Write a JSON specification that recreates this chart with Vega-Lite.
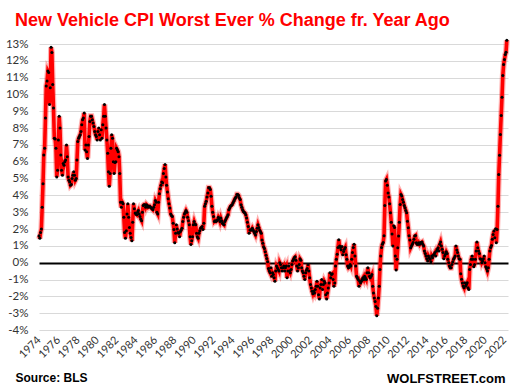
{
"$schema":"https://vega.github.io/schema/vega-lite/v6.json",
"width":469,"height":286,
"autosize":{"type":"none"},
"padding":{"left":39,"top":44,"right":4,"bottom":60},
"background":"white",
"config":{"view":{"stroke":null}},
"title":{"text":"New Vehicle CPI Worst Ever % Change fr. Year Ago","anchor":"start","frame":"group","dx":-24,"offset":-2,"color":"#ff0000","font":"Liberation Sans","fontSize":18,"fontWeight":"bold"},
"data":{"format":{"parse":{"d":"utc:'%Y-%m'"}},"values":[
{"d":"1974-01","v":1.6},{"d":"1974-02","v":1.45},{"d":"1974-03","v":1.8},{"d":"1974-04","v":2.0},{"d":"1974-05","v":3.3},{"d":"1974-06","v":4.7},{"d":"1974-07","v":6.4},{"d":"1974-08","v":6.8},{"d":"1974-09","v":8.6},{"d":"1974-10","v":10.5},{"d":"1974-11","v":10.8},{"d":"1974-12","v":11.4},
{"d":"1975-01","v":11.3},{"d":"1975-02","v":9.4},{"d":"1975-03","v":10.4},{"d":"1975-04","v":12.8},{"d":"1975-05","v":12.5},{"d":"1975-06","v":10.6},{"d":"1975-07","v":9.2},{"d":"1975-08","v":7.4},{"d":"1975-09","v":7.35},{"d":"1975-10","v":6.8},{"d":"1975-11","v":5.1},{"d":"1975-12","v":5.5},
{"d":"1976-01","v":7.3},{"d":"1976-02","v":8.7},{"d":"1976-03","v":8.0},{"d":"1976-04","v":6.4},{"d":"1976-05","v":5.5},{"d":"1976-06","v":5.2},{"d":"1976-07","v":5.9},{"d":"1976-08","v":5.8},{"d":"1976-09","v":6.0},{"d":"1976-10","v":6.1},{"d":"1976-11","v":7.0},{"d":"1976-12","v":6.3},
{"d":"1977-01","v":5.1},{"d":"1977-02","v":4.9},{"d":"1977-03","v":4.8},{"d":"1977-04","v":4.6},{"d":"1977-05","v":4.65},{"d":"1977-06","v":5.0},{"d":"1977-07","v":5.2},{"d":"1977-08","v":5.4},{"d":"1977-09","v":5.2},{"d":"1977-10","v":4.9},{"d":"1977-11","v":5.0},{"d":"1977-12","v":6.1},
{"d":"1978-01","v":7.2},{"d":"1978-02","v":7.4},{"d":"1978-03","v":7.5},{"d":"1978-04","v":7.6},{"d":"1978-05","v":7.8},{"d":"1978-06","v":8.2},{"d":"1978-07","v":8.5},{"d":"1978-08","v":8.6},{"d":"1978-09","v":8.9},{"d":"1978-10","v":6.7},{"d":"1978-11","v":7.0},{"d":"1978-12","v":6.6},
{"d":"1979-01","v":6.2},{"d":"1979-02","v":7.0},{"d":"1979-03","v":7.5},{"d":"1979-04","v":8.4},{"d":"1979-05","v":8.7},{"d":"1979-06","v":8.7},{"d":"1979-07","v":8.5},{"d":"1979-08","v":8.3},{"d":"1979-09","v":8.1},{"d":"1979-10","v":7.8},{"d":"1979-11","v":7.6},{"d":"1979-12","v":7.5},
{"d":"1980-01","v":7.3},{"d":"1980-02","v":7.8},{"d":"1980-03","v":8.0},{"d":"1980-04","v":7.6},{"d":"1980-05","v":7.3},{"d":"1980-06","v":7.9},{"d":"1980-07","v":7.4},{"d":"1980-08","v":8.2},{"d":"1980-09","v":8.7},{"d":"1980-10","v":9.4},{"d":"1980-11","v":8.7},{"d":"1980-12","v":8.0},
{"d":"1981-01","v":7.3},{"d":"1981-02","v":6.5},{"d":"1981-03","v":5.4},{"d":"1981-04","v":4.55},{"d":"1981-05","v":5.3},{"d":"1981-06","v":6.8},{"d":"1981-07","v":7.6},{"d":"1981-08","v":7.4},{"d":"1981-09","v":6.0},{"d":"1981-10","v":5.3},{"d":"1981-11","v":5.95},{"d":"1981-12","v":6.0},
{"d":"1982-01","v":6.8},{"d":"1982-02","v":6.7},{"d":"1982-03","v":6.6},{"d":"1982-04","v":6.3},{"d":"1982-05","v":5.3},{"d":"1982-06","v":3.6},{"d":"1982-07","v":3.3},{"d":"1982-08","v":3.6},{"d":"1982-09","v":3.5},{"d":"1982-10","v":2.7},{"d":"1982-11","v":1.8},{"d":"1982-12","v":1.45},
{"d":"1983-01","v":1.9},{"d":"1983-02","v":2.9},{"d":"1983-03","v":3.5},{"d":"1983-04","v":2.7},{"d":"1983-05","v":2.1},{"d":"1983-06","v":1.75},{"d":"1983-07","v":1.5},{"d":"1983-08","v":1.3},{"d":"1983-09","v":2.4},{"d":"1983-10","v":3.5},{"d":"1983-11","v":3.2},{"d":"1983-12","v":2.95},
{"d":"1984-01","v":2.9},{"d":"1984-02","v":2.85},{"d":"1984-03","v":3.0},{"d":"1984-04","v":3.1},{"d":"1984-05","v":2.9},{"d":"1984-06","v":2.75},{"d":"1984-07","v":2.6},{"d":"1984-08","v":2.5},{"d":"1984-09","v":3.0},{"d":"1984-10","v":3.4},{"d":"1984-11","v":3.45},{"d":"1984-12","v":3.45},
{"d":"1985-01","v":3.3},{"d":"1985-02","v":3.45},{"d":"1985-03","v":3.4},{"d":"1985-04","v":3.3},{"d":"1985-05","v":3.35},{"d":"1985-06","v":3.36},{"d":"1985-07","v":3.3},{"d":"1985-08","v":3.25},{"d":"1985-09","v":3.2},{"d":"1985-10","v":3.15},{"d":"1985-11","v":3.3},{"d":"1985-12","v":3.45},
{"d":"1986-01","v":3.7},{"d":"1986-02","v":3.6},{"d":"1986-03","v":3.0},{"d":"1986-04","v":2.9},{"d":"1986-05","v":3.6},{"d":"1986-06","v":4.1},{"d":"1986-07","v":4.4},{"d":"1986-08","v":4.6},{"d":"1986-09","v":4.8},{"d":"1986-10","v":4.75},{"d":"1986-11","v":5.3},{"d":"1986-12","v":5.6},
{"d":"1987-01","v":5.84},{"d":"1987-02","v":5.1},{"d":"1987-03","v":4.6},{"d":"1987-04","v":4.2},{"d":"1987-05","v":3.8},{"d":"1987-06","v":3.5},{"d":"1987-07","v":3.25},{"d":"1987-08","v":2.9},{"d":"1987-09","v":2.8},{"d":"1987-10","v":2.75},{"d":"1987-11","v":2.35},{"d":"1987-12","v":1.97},
{"d":"1988-01","v":1.18},{"d":"1988-02","v":1.75},{"d":"1988-03","v":2.25},{"d":"1988-04","v":2.0},{"d":"1988-05","v":1.8},{"d":"1988-06","v":1.75},{"d":"1988-07","v":1.55},{"d":"1988-08","v":1.85},{"d":"1988-09","v":1.95},{"d":"1988-10","v":2.05},{"d":"1988-11","v":2.45},{"d":"1988-12","v":2.7},
{"d":"1989-01","v":2.9},{"d":"1989-02","v":3.0},{"d":"1989-03","v":3.1},{"d":"1989-04","v":3.0},{"d":"1989-05","v":2.7},{"d":"1989-06","v":2.5},{"d":"1989-07","v":2.25},{"d":"1989-08","v":1.55},{"d":"1989-09","v":1.08},{"d":"1989-10","v":1.3},{"d":"1989-11","v":1.55},{"d":"1989-12","v":2.25},
{"d":"1990-01","v":2.45},{"d":"1990-02","v":2.3},{"d":"1990-03","v":2.25},{"d":"1990-04","v":1.75},{"d":"1990-05","v":1.55},{"d":"1990-06","v":1.45},{"d":"1990-07","v":1.75},{"d":"1990-08","v":1.9},{"d":"1990-09","v":2.05},{"d":"1990-10","v":2.1},{"d":"1990-11","v":2.15},{"d":"1990-12","v":1.97},
{"d":"1991-01","v":2.35},{"d":"1991-02","v":3.35},{"d":"1991-03","v":3.5},{"d":"1991-04","v":3.65},{"d":"1991-05","v":3.9},{"d":"1991-06","v":4.15},{"d":"1991-07","v":4.45},{"d":"1991-08","v":4.45},{"d":"1991-09","v":4.35},{"d":"1991-10","v":3.95},{"d":"1991-11","v":3.35},{"d":"1991-12","v":3.0},
{"d":"1992-01","v":2.75},{"d":"1992-02","v":2.45},{"d":"1992-03","v":2.5},{"d":"1992-04","v":2.45},{"d":"1992-05","v":2.5},{"d":"1992-06","v":2.55},{"d":"1992-07","v":2.7},{"d":"1992-08","v":2.6},{"d":"1992-09","v":2.45},{"d":"1992-10","v":2.65},{"d":"1992-11","v":2.5},{"d":"1992-12","v":2.35},
{"d":"1993-01","v":2.3},{"d":"1993-02","v":2.25},{"d":"1993-03","v":2.45},{"d":"1993-04","v":2.55},{"d":"1993-05","v":2.65},{"d":"1993-06","v":2.75},{"d":"1993-07","v":2.85},{"d":"1993-08","v":3.15},{"d":"1993-09","v":3.25},{"d":"1993-10","v":3.35},{"d":"1993-11","v":3.4},{"d":"1993-12","v":3.45},
{"d":"1994-01","v":3.55},{"d":"1994-02","v":3.65},{"d":"1994-03","v":3.75},{"d":"1994-04","v":3.85},{"d":"1994-05","v":3.9},{"d":"1994-06","v":4.05},{"d":"1994-07","v":4.05},{"d":"1994-08","v":4.0},{"d":"1994-09","v":3.85},{"d":"1994-10","v":3.75},{"d":"1994-11","v":3.45},{"d":"1994-12","v":3.3},
{"d":"1995-01","v":3.15},{"d":"1995-02","v":3.05},{"d":"1995-03","v":3.0},{"d":"1995-04","v":2.95},{"d":"1995-05","v":2.85},{"d":"1995-06","v":2.65},{"d":"1995-07","v":2.4},{"d":"1995-08","v":2.15},{"d":"1995-09","v":1.75},{"d":"1995-10","v":1.95},{"d":"1995-11","v":1.95},{"d":"1995-12","v":1.95},
{"d":"1996-01","v":2.05},{"d":"1996-02","v":1.95},{"d":"1996-03","v":1.85},{"d":"1996-04","v":1.75},{"d":"1996-05","v":1.65},{"d":"1996-06","v":1.85},{"d":"1996-07","v":2.05},{"d":"1996-08","v":2.25},{"d":"1996-09","v":2.1},{"d":"1996-10","v":1.95},{"d":"1996-11","v":1.85},{"d":"1996-12","v":1.75},
{"d":"1997-01","v":1.35},{"d":"1997-02","v":1.15},{"d":"1997-03","v":0.95},{"d":"1997-04","v":0.85},{"d":"1997-05","v":0.65},{"d":"1997-06","v":0.45},{"d":"1997-07","v":0.25},{"d":"1997-08","v":0.05},{"d":"1997-09","v":-0.35},{"d":"1997-10","v":-0.5},{"d":"1997-11","v":-0.6},{"d":"1997-12","v":-0.3},
{"d":"1998-01","v":-0.8},{"d":"1998-02","v":-0.6},{"d":"1998-03","v":-0.7},{"d":"1998-04","v":-0.9},{"d":"1998-05","v":-1.1},{"d":"1998-06","v":-0.5},{"d":"1998-07","v":-0.2},{"d":"1998-08","v":-0.3},{"d":"1998-09","v":-0.4},{"d":"1998-10","v":-0.5},{"d":"1998-11","v":0.0},{"d":"1998-12","v":-0.1},
{"d":"1999-01","v":-0.3},{"d":"1999-02","v":-0.5},{"d":"1999-03","v":-0.3},{"d":"1999-04","v":-0.2},{"d":"1999-05","v":-0.5},{"d":"1999-06","v":-0.3},{"d":"1999-07","v":-0.2},{"d":"1999-08","v":-0.9},{"d":"1999-09","v":-0.5},{"d":"1999-10","v":-0.2},{"d":"1999-11","v":-0.5},{"d":"1999-12","v":-0.6},
{"d":"2000-01","v":-0.4},{"d":"2000-02","v":-0.1},{"d":"2000-03","v":0.1},{"d":"2000-04","v":0.2},{"d":"2000-05","v":0.3},{"d":"2000-06","v":0.35},{"d":"2000-07","v":0.15},{"d":"2000-08","v":-0.2},{"d":"2000-09","v":-0.5},{"d":"2000-10","v":-0.3},{"d":"2000-11","v":-0.1},{"d":"2000-12","v":0.23},
{"d":"2001-01","v":0.15},{"d":"2001-02","v":-0.3},{"d":"2001-03","v":-0.5},{"d":"2001-04","v":-0.6},{"d":"2001-05","v":-0.8},{"d":"2001-06","v":-1.0},{"d":"2001-07","v":-0.6},{"d":"2001-08","v":-0.45},{"d":"2001-09","v":-0.35},{"d":"2001-10","v":-0.1},{"d":"2001-11","v":-0.5},{"d":"2001-12","v":-0.9},
{"d":"2002-01","v":-1.3},{"d":"2002-02","v":-1.5},{"d":"2002-03","v":-1.7},{"d":"2002-04","v":-1.85},{"d":"2002-05","v":-1.7},{"d":"2002-06","v":-1.8},{"d":"2002-07","v":-1.6},{"d":"2002-08","v":-1.4},{"d":"2002-09","v":-1.1},{"d":"2002-10","v":-1.4},{"d":"2002-11","v":-1.9},{"d":"2002-12","v":-2.15},
{"d":"2003-01","v":-1.5},{"d":"2003-02","v":-1.3},{"d":"2003-03","v":-1.0},{"d":"2003-04","v":-1.6},{"d":"2003-05","v":-1.3},{"d":"2003-06","v":-1.1},{"d":"2003-07","v":-1.2},{"d":"2003-08","v":-1.9},{"d":"2003-09","v":-2.15},{"d":"2003-10","v":-1.8},{"d":"2003-11","v":-1.5},{"d":"2003-12","v":-1.2},
{"d":"2004-01","v":-0.6},{"d":"2004-02","v":-0.9},{"d":"2004-03","v":-0.7},{"d":"2004-04","v":-0.65},{"d":"2004-05","v":-1.0},{"d":"2004-06","v":-1.4},{"d":"2004-07","v":-1.2},{"d":"2004-08","v":-0.2},{"d":"2004-09","v":0.2},{"d":"2004-10","v":0.5},{"d":"2004-11","v":0.9},{"d":"2004-12","v":1.37},
{"d":"2005-01","v":1.0},{"d":"2005-02","v":0.9},{"d":"2005-03","v":0.77},{"d":"2005-04","v":0.97},{"d":"2005-05","v":0.48},{"d":"2005-06","v":0.67},{"d":"2005-07","v":0.8},{"d":"2005-08","v":0.9},{"d":"2005-09","v":0.48},{"d":"2005-10","v":0.2},{"d":"2005-11","v":-0.2},{"d":"2005-12","v":-0.3},
{"d":"2006-01","v":-0.25},{"d":"2006-02","v":-0.1},{"d":"2006-03","v":-0.2},{"d":"2006-04","v":0.2},{"d":"2006-05","v":0.6},{"d":"2006-06","v":0.9},{"d":"2006-07","v":1.1},{"d":"2006-08","v":0.4},{"d":"2006-09","v":-0.2},{"d":"2006-10","v":-0.8},{"d":"2006-11","v":-0.9},{"d":"2006-12","v":-1.0},
{"d":"2007-01","v":-1.4},{"d":"2007-02","v":-1.1},{"d":"2007-03","v":-1.2},{"d":"2007-04","v":-1.1},{"d":"2007-05","v":-1.0},{"d":"2007-06","v":-0.9},{"d":"2007-07","v":-1.0},{"d":"2007-08","v":-0.8},{"d":"2007-09","v":-0.9},{"d":"2007-10","v":-1.0},{"d":"2007-11","v":-0.6},{"d":"2007-12","v":-0.3},
{"d":"2008-01","v":-0.6},{"d":"2008-02","v":-0.8},{"d":"2008-03","v":-0.9},{"d":"2008-04","v":-0.8},{"d":"2008-05","v":-0.7},{"d":"2008-06","v":-1.4},{"d":"2008-07","v":-1.8},{"d":"2008-08","v":-2.1},{"d":"2008-09","v":-2.3},{"d":"2008-10","v":-2.6},{"d":"2008-11","v":-3.15},{"d":"2008-12","v":-2.7},
{"d":"2009-01","v":-2.1},{"d":"2009-02","v":-1.4},{"d":"2009-03","v":-0.4},{"d":"2009-04","v":0.4},{"d":"2009-05","v":0.9},{"d":"2009-06","v":1.1},{"d":"2009-07","v":1.2},{"d":"2009-08","v":1.6},{"d":"2009-09","v":3.4},{"d":"2009-10","v":4.85},{"d":"2009-11","v":4.95},{"d":"2009-12","v":4.6},
{"d":"2010-01","v":4.15},{"d":"2010-02","v":3.9},{"d":"2010-03","v":3.5},{"d":"2010-04","v":2.97},{"d":"2010-05","v":2.4},{"d":"2010-06","v":1.7},{"d":"2010-07","v":1.0},{"d":"2010-08","v":2.2},{"d":"2010-09","v":2.1},{"d":"2010-10","v":0.4},{"d":"2010-11","v":-0.44},{"d":"2010-12","v":0.2},
{"d":"2011-01","v":0.89},{"d":"2011-02","v":1.58},{"d":"2011-03","v":2.4},{"d":"2011-04","v":3.46},{"d":"2011-05","v":4.06},{"d":"2011-06","v":3.96},{"d":"2011-07","v":3.76},{"d":"2011-08","v":3.6},{"d":"2011-09","v":3.4},{"d":"2011-10","v":3.27},{"d":"2011-11","v":3.1},{"d":"2011-12","v":2.97},
{"d":"2012-01","v":2.47},{"d":"2012-02","v":2.08},{"d":"2012-03","v":1.6},{"d":"2012-04","v":1.35},{"d":"2012-05","v":0.89},{"d":"2012-06","v":1.0},{"d":"2012-07","v":1.09},{"d":"2012-08","v":1.2},{"d":"2012-09","v":1.4},{"d":"2012-10","v":1.58},{"d":"2012-11","v":1.62},{"d":"2012-12","v":1.19},
{"d":"2013-01","v":1.1},{"d":"2013-02","v":1.09},{"d":"2013-03","v":1.19},{"d":"2013-04","v":1.09},{"d":"2013-05","v":1.19},{"d":"2013-06","v":1.2},{"d":"2013-07","v":1.23},{"d":"2013-08","v":1.09},{"d":"2013-09","v":1.0},{"d":"2013-10","v":0.7},{"d":"2013-11","v":0.55},{"d":"2013-12","v":0.4},
{"d":"2014-01","v":0.24},{"d":"2014-02","v":0.1},{"d":"2014-03","v":0.4},{"d":"2014-04","v":0.3},{"d":"2014-05","v":0.2},{"d":"2014-06","v":0.06},{"d":"2014-07","v":0.4},{"d":"2014-08","v":0.3},{"d":"2014-09","v":0.45},{"d":"2014-10","v":0.5},{"d":"2014-11","v":0.6},{"d":"2014-12","v":0.4},
{"d":"2015-01","v":0.7},{"d":"2015-02","v":0.8},{"d":"2015-03","v":0.89},{"d":"2015-04","v":0.7},{"d":"2015-05","v":1.09},{"d":"2015-06","v":1.23},{"d":"2015-07","v":1.0},{"d":"2015-08","v":0.8},{"d":"2015-09","v":0.6},{"d":"2015-10","v":0.24},{"d":"2015-11","v":0.4},{"d":"2015-12","v":0.5},
{"d":"2016-01","v":0.65},{"d":"2016-02","v":0.55},{"d":"2016-03","v":0.2},{"d":"2016-04","v":0.0},{"d":"2016-05","v":-0.2},{"d":"2016-06","v":-0.3},{"d":"2016-07","v":-0.3},{"d":"2016-08","v":-0.1},{"d":"2016-09","v":0.04},{"d":"2016-10","v":0.2},{"d":"2016-11","v":0.3},{"d":"2016-12","v":0.4},
{"d":"2017-01","v":1.0},{"d":"2017-02","v":0.75},{"d":"2017-03","v":0.6},{"d":"2017-04","v":0.4},{"d":"2017-05","v":0.24},{"d":"2017-06","v":0.2},{"d":"2017-07","v":-0.65},{"d":"2017-08","v":-0.99},{"d":"2017-09","v":-1.2},{"d":"2017-10","v":-1.39},{"d":"2017-11","v":-1.49},{"d":"2017-12","v":-1.19},
{"d":"2018-01","v":-1.39},{"d":"2018-02","v":-1.3},{"d":"2018-03","v":-1.19},{"d":"2018-04","v":-1.49},{"d":"2018-05","v":-1.59},{"d":"2018-06","v":-0.4},{"d":"2018-07","v":-0.1},{"d":"2018-08","v":0.2},{"d":"2018-09","v":0.4},{"d":"2018-10","v":0.2},{"d":"2018-11","v":-0.24},{"d":"2018-12","v":-0.1},
{"d":"2019-01","v":0.2},{"d":"2019-02","v":0.7},{"d":"2019-03","v":1.23},{"d":"2019-04","v":0.89},{"d":"2019-05","v":0.7},{"d":"2019-06","v":0.55},{"d":"2019-07","v":0.24},{"d":"2019-08","v":0.2},{"d":"2019-09","v":0.0},{"d":"2019-10","v":0.1},{"d":"2019-11","v":0.24},{"d":"2019-12","v":0.4},
{"d":"2020-01","v":0.0},{"d":"2020-02","v":-0.24},{"d":"2020-03","v":-0.35},{"d":"2020-04","v":-0.5},{"d":"2020-05","v":-0.3},{"d":"2020-06","v":0.2},{"d":"2020-07","v":0.7},{"d":"2020-08","v":0.9},{"d":"2020-09","v":1.03},{"d":"2020-10","v":1.39},{"d":"2020-11","v":1.68},{"d":"2020-12","v":1.88},
{"d":"2021-01","v":1.48},{"d":"2021-02","v":2.02},{"d":"2021-03","v":1.19},{"d":"2021-04","v":1.98},{"d":"2021-05","v":3.36},{"d":"2021-06","v":5.25},{"d":"2021-07","v":6.38},{"d":"2021-08","v":7.62},{"d":"2021-09","v":8.75},{"d":"2021-10","v":9.84},{"d":"2021-11","v":11.13},{"d":"2021-12","v":11.78},
{"d":"2022-01","v":12.08},{"d":"2022-02","v":12.37},{"d":"2022-03","v":12.51},{"d":"2022-04","v":13.23}
]},
"encoding":{
"x":{"field":"d","type":"temporal","scale":{"type":"utc","domain":[{"year":1974,"month":1,"date":1,"utc":true},{"year":2022,"month":5,"date":15,"utc":true}]},
"axis":{"format":"%Y","tickCount":{"interval":"year","step":2},"labelAngle":-45,"labelAlign":"right","labelBaseline":"middle","labelPadding":8,"domain":false,"ticks":false,"grid":false,"labelFont":"Lato","labelFontSize":11,"labelColor":"#333333","labelFlush":false,"labelOverlap":false,"labelBound":false,
"title":"Source: BLS","titleAnchor":"start","titleX":-24,"titleY":51,"titleAlign":"left","titleBaseline":"alphabetic","titleFont":"Liberation Sans","titleFontSize":12,"titleFontWeight":"bold","titleColor":"#000000"}},
"y":{"field":"v","type":"quantitative","scale":{"domain":[-4,13],"nice":false,"zero":false},
"axis":{"values":[-4,-3,-2,-1,0,1,2,3,4,5,6,7,8,9,10,11,12,13],"labelExpr":"datum.value + '%'","labelOverlap":false,"domain":false,"ticks":false,"grid":true,
"gridColor":{"condition":{"test":"datum.value === 0","value":"#000000"},"value":"#d9d9d9"},
"gridWidth":{"condition":{"test":"datum.value === 0","value":1.8},"value":1.2},
"labelPadding":11,"labelFont":"Lato","labelFontSize":11.5,"labelColor":"#333333",
"title":"WOLFSTREET.com","titleAngle":0,"titleX":466,"titleY":338,"titleAlign":"right","titleBaseline":"alphabetic","titleFont":"Liberation Sans","titleFontSize":13,"titleFontWeight":"bold","titleColor":"#000000"}}
},
"layer":[
{"data":{"format":{"parse":{"t":"utc:'%Y'"}},"values":[{"t":"1974"},{"t":"1976"},{"t":"1978"},{"t":"1980"},{"t":"1982"},{"t":"1984"},{"t":"1986"},{"t":"1988"},{"t":"1990"},{"t":"1992"},{"t":"1994"},{"t":"1996"},{"t":"1998"},{"t":"2000"},{"t":"2002"},{"t":"2004"},{"t":"2006"},{"t":"2008"},{"t":"2010"},{"t":"2012"},{"t":"2014"},{"t":"2016"},{"t":"2018"},{"t":"2020"},{"t":"2022"}]},
 "mark":{"type":"rule","color":"#000000","strokeWidth":1.2},"encoding":{"x":{"field":"t","type":"temporal"},"y":{"datum":0,"type":"quantitative"},"y2":{"datum":-0.3}}},
{"mark":{"type":"line","color":"#ff0000","strokeWidth":6,"opacity":0.3}},
{"mark":{"type":"line","color":"#ff0000","strokeWidth":3.6}},
{"mark":{"type":"circle","color":"#000000","size":9,"opacity":1}}
]
}
